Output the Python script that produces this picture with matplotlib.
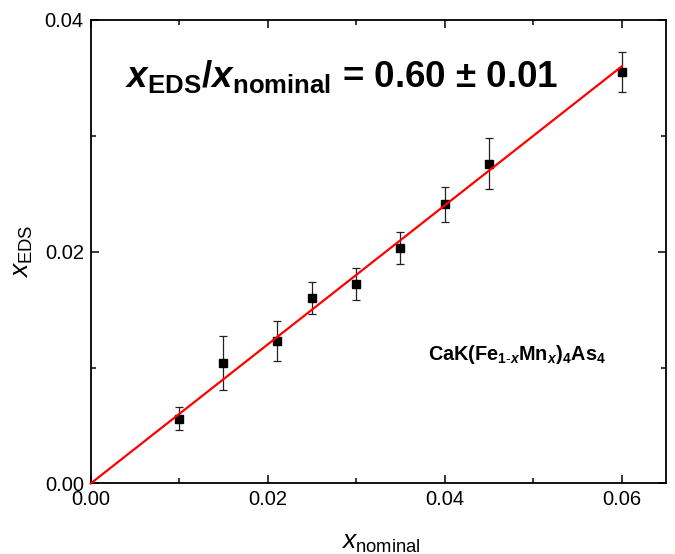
import matplotlib
matplotlib.use("Agg")
import matplotlib.pyplot as plt
import numpy as np
from matplotlib.ticker import MultipleLocator, FormatStrFormatter

plt.rcParams['font.family'] = ['Liberation Sans', 'DejaVu Sans']
plt.rcParams['mathtext.fontset'] = 'custom'
plt.rcParams['mathtext.rm'] = 'Liberation Sans'
plt.rcParams['mathtext.it'] = 'Liberation Sans:italic'
plt.rcParams['mathtext.bf'] = 'Liberation Sans:bold'
plt.rcParams['mathtext.bfit'] = 'Liberation Sans:italic:bold'

# Data
x_nominal = [0.010, 0.015, 0.021, 0.025, 0.030, 0.035, 0.040, 0.045, 0.060]
x_eds = [0.0056, 0.0104, 0.0123, 0.0160, 0.0172, 0.0203, 0.0241, 0.0276, 0.0355]
x_eds_err = [0.0010, 0.0023, 0.0017, 0.0014, 0.0014, 0.0014, 0.0015, 0.0022, 0.0017]
slope = 0.60
fit_x = [0.0, 0.060]

fig = plt.figure(figsize=(6.75, 5.54), dpi=100)
ax = fig.add_axes([0.1344, 0.1273, 0.8523, 0.8366])

ax.errorbar(x_nominal, x_eds, yerr=x_eds_err, fmt='s', color='black',
            ecolor='#222222', elinewidth=0.9, capsize=3.2, capthick=0.9,
            markersize=6, zorder=2)
ax.plot(fit_x, [slope * v for v in fit_x], color='#ff0000', lw=1.6, zorder=3,
        clip_on=False)

ax.set_xlim(0, 0.065)
ax.set_ylim(0, 0.04)
ax.xaxis.set_major_locator(MultipleLocator(0.02))
ax.xaxis.set_minor_locator(MultipleLocator(0.01))
ax.yaxis.set_major_locator(MultipleLocator(0.02))
ax.yaxis.set_minor_locator(MultipleLocator(0.01))
ax.xaxis.set_major_formatter(FormatStrFormatter('%.2f'))
ax.yaxis.set_major_formatter(FormatStrFormatter('%.2f'))
ax.tick_params(which='both', direction='in', top=True, right=True,
               labelsize=14.5, width=1.1, pad=5)
ax.tick_params(which='major', length=6)
ax.tick_params(which='minor', length=3.5)
for s in ax.spines.values():
    s.set_linewidth(1.3)

ax.set_xlabel(r'$\mathit{x}_{\mathrm{nominal}}$', fontsize=19)
ax.set_ylabel(r'$\mathit{x}_{\mathrm{EDS}}$', fontsize=19)
ax.xaxis.set_label_coords(0.505, -0.102)
ax.yaxis.set_label_coords(-0.097, 0.5)

ax.text(125, 554 - 87, r'$\mathbfit{x}_{\mathbf{EDS}}$/$\mathbfit{x}_{\mathbf{nominal}}$ = 0.60 ± 0.01',
        transform=None, fontsize=26.5, fontweight='bold', va='baseline', ha='left')
ax.text(428, 554 - 360, r'CaK(Fe$_{\mathbf{1}\text{-}\mathbfit{x}}$Mn$_{\mathbfit{x}}$)$_{\mathbf{4}}$As$_{\mathbf{4}}$',
        transform=None, fontsize=14.3, fontweight='bold', va='baseline', ha='left')

fig.savefig('out.png', dpi=100)
